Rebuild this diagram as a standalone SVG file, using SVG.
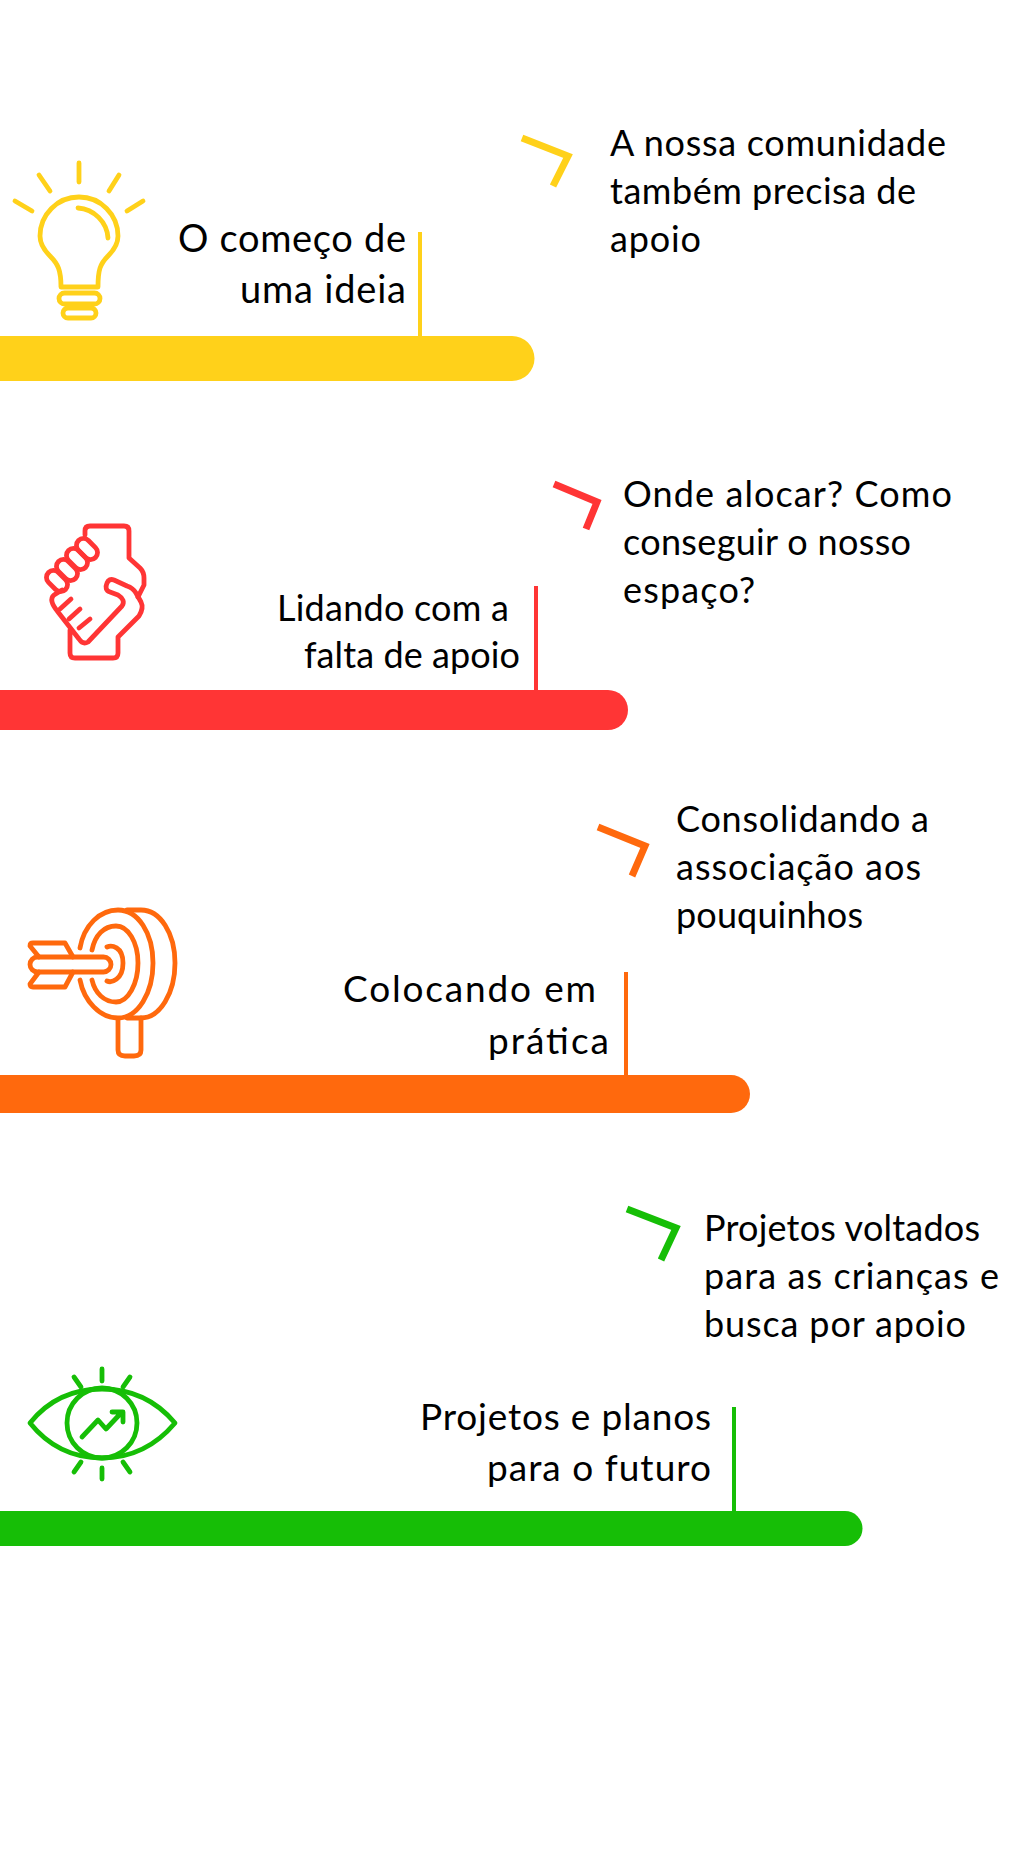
<svg xmlns="http://www.w3.org/2000/svg" width="1024" height="1860" viewBox="0 0 1024 1860">
<style>
text{font-family:"Lato","Noto Sans",sans-serif;fill:#000}
.t1{font-size:38px}.t2{font-size:36px}.t3{font-size:37px}
.ic{fill:none;stroke-width:4.800;stroke-linecap:round;stroke-linejoin:round}
.ch{fill:none;stroke-width:7;stroke-linejoin:miter;stroke-linecap:butt}
.y{stroke:#FFD11A}.r{stroke:#FF3535}.o{stroke:#FF690D}.g{stroke:#16BE06}
</style>
<rect width="1024" height="1860" fill="#fff"/>
<g id="connectors" fill="none" stroke-width="4">
<path class="y" d="M420 232V337"/>
<path class="r" d="M536 586V691"/>
<path class="o" d="M626 972V1076"/>
<path class="g" d="M734 1407V1512"/>
<path class="ch y" d="M522 138L568 156L553 186"/>
<path class="ch r" d="M554 484L597 502L586 529"/>
<path class="ch o" d="M598 827L645 846L632 876"/>
<path class="ch g" d="M627 1209L676 1228L661 1260"/>
</g>
<g id="node-ideia">
<path d="M-20 336H512a22 22 0 0 1 0 45H-20z" fill="#FFD11A"/>
<g class="ic y">
<path d="M79 163V182M39 175L50 191M119 175L109 191M15 201L32 211M143 201L127 211"/>
<path d="M61 287C61 270 58 264 50 256C43 249 40 243 40 236A39 39 0 0 1 118 236C118 243 115 249 108 256C100 264 98 270 98 287Z"/>
<path d="M78 208C94 209 107 222 108 238"/>
<rect x="59" y="293" width="41" height="11" rx="5.500"/>
<rect x="63" y="308" width="33" height="10" rx="5"/>
</g>
<text class="t1" x="178" y="252" textLength="228">O começo de</text>
<text class="t1" x="240" y="303" textLength="166">uma ideia</text>
<text class="t2" x="610" y="156" textLength="336">A nossa comunidade</text>
<text class="t2" x="610" y="204" textLength="306">também precisa de</text>
<text class="t2" x="610" y="252" textLength="91">apoio</text>
</g>
<g id="node-apoio">
<path d="M-20 690H608a20 20 0 0 1 0 40H-20z" fill="#FF3535"/>
<g class="ic r">
<path d="M85 535V531Q85 526 90 526H124Q129 526 129 531V558L140 568Q144 572 144 578V585L138 597"/>
<path d="M70 630V653Q70 658 75 658H113Q118 658 118 653V637L139 616Q144 608 141 602L136 593Q133 588 127 586L114 580Q109 578 107 583Q104 590 110 592L118 595Q126 600 122 606L88 642Q83 645 79 639L58 612Q48 600 54 595L62 590"/>
<rect x="75" y="542" width="24" height="14" rx="7" transform="rotate(45 87 549)"/>
<rect x="65" y="552" width="24" height="14" rx="7" transform="rotate(45 77 559)"/>
<rect x="55" y="563" width="24" height="14" rx="7" transform="rotate(45 67 570)"/>
<rect x="45" y="574" width="24" height="14" rx="7" transform="rotate(45 57 581)"/>
<path d="M71 599L60 609M80 609L69 619M90 619L79 628"/>
</g>
<text class="t2" x="277" y="621" textLength="232">Lidando com a</text>
<text class="t2" x="304" y="668" textLength="216">falta de apoio</text>
<text class="t2" x="623" y="507" textLength="329">Onde alocar? Como</text>
<text class="t2" x="623" y="555" textLength="288">conseguir o nosso</text>
<text class="t2" x="623" y="603" textLength="132">espaço?</text>
</g>
<g id="node-pratica">
<path d="M-20 1075H731a19 19 0 0 1 0 38H-20z" fill="#FF690D"/>
<g class="ic o">
<path d="M127 910H141C160 910 175 933 175 963S160 1018 141 1018H127"/>
<path d="M80 948C84 925 100 910 118 910C138 910 153 933 153 963S138 1018 118 1018C100 1018 84 1001 80 980"/>
<path d="M92 950C95 935 104 926 116 926C128 926 138 942 138 963S128 1002 116 1002C104 1002 95 993 92 980"/>
<path d="M107 947C111 945 123 946 123 963S111 983 107 981"/>
<rect x="30" y="957" width="81" height="15" rx="7.500"/>
<path d="M39 957L30 946Q30 943 33 943H65L73 957M39 972L30 984Q30 987 33 987H65L73 972"/>
<path d="M118 1020V1050Q118 1056 125 1056H134Q141 1056 141 1050V1018"/>
</g>
<text class="t3" x="343" y="1002" textLength="253">Colocando em</text>
<text class="t3" x="488" y="1054" textLength="121">prática</text>
<text class="t2" x="676" y="832" textLength="253">Consolidando a</text>
<text class="t2" x="676" y="880" textLength="245">associação aos</text>
<text class="t2" x="676" y="928" textLength="187">pouquinhos</text>
</g>
<g id="node-futuro">
<path d="M-20 1511H845a17.500 17.500 0 0 1 0 35H-20z" fill="#16BE06"/>
<g class="ic g">
<path d="M102 1369V1381M74 1377L81 1387M130 1377L123 1387M102 1468V1479M81 1462L74 1472M123 1462L130 1472"/>
<path d="M30 1423C50 1398 75 1389 102 1389S154 1398 175 1423C154 1448 129 1458 102 1458S50 1448 30 1423Z"/>
<circle cx="102" cy="1423" r="35"/>
<path d="M82 1437L98 1420L106 1429L122 1412M112 1412H123V1422"/>
</g>
<text class="t3" x="420" y="1430" textLength="291">Projetos e planos</text>
<text class="t3" x="487" y="1481" textLength="224">para o futuro</text>
<text class="t2" x="704" y="1241" textLength="276">Projetos voltados</text>
<text class="t2" x="704" y="1289" textLength="295">para as crianças e</text>
<text class="t2" x="704" y="1337" textLength="262">busca por apoio</text>
</g>
</svg>
